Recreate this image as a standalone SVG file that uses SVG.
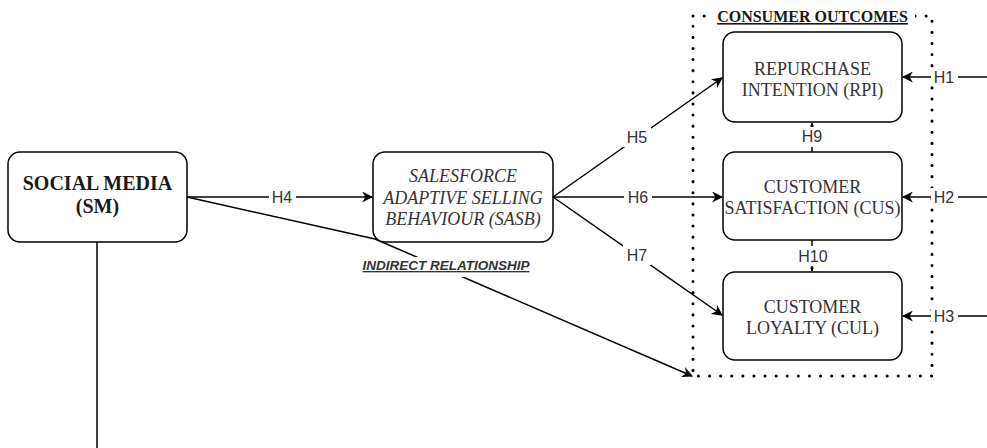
<svg xmlns="http://www.w3.org/2000/svg" width="987" height="448" viewBox="0 0 987 448">
  <style>
    .box { fill: #ffffff; stroke: #000000; stroke-width: 1.5; }
    .node-text { font-family: "Liberation Serif", "Times New Roman", serif; font-size: 18px; fill: #333333; text-anchor: middle; }
    .edge { fill: none; stroke: #000000; stroke-width: 1.5; }
    .lbl { font-family: "Liberation Sans", Arial, sans-serif; font-size: 16px; fill: #333333; text-anchor: middle; dominant-baseline: central; }
    .lbl-bg { fill: #ffffff; }
  </style>
  <defs>
    <marker id="arrow-lg" viewBox="0 0 10 10" refX="9" refY="5" markerWidth="11" markerHeight="11" markerUnits="userSpaceOnUse" orient="auto">
      <path d="M0,0 L10,5 L0,10 L3,5 Z" fill="#000000"/>
    </marker>
    <marker id="arrow-sm" viewBox="0 0 10 10" refX="9" refY="5" markerWidth="4" markerHeight="4" markerUnits="userSpaceOnUse" orient="auto">
      <path d="M0,0 L10,5 L0,10 Z" fill="#000000"/>
    </marker>
  </defs>

  <rect width="987" height="448" fill="#ffffff"/>

  <!-- consumer outcomes container -->
  <g id="consumer-outcomes">
    <rect x="693" y="16" width="239" height="360" fill="none" stroke="#000000" stroke-width="3" stroke-dasharray="0.1 11" stroke-linecap="round"/>
    <rect x="710" y="4" width="205" height="22" fill="#ffffff"/>
    <text x="812.5" y="22" font-family="'Liberation Serif', 'Times New Roman', serif" font-size="16" font-weight="bold" fill="#1a1a1a" text-anchor="middle" text-decoration="underline">CONSUMER OUTCOMES</text>
  </g>

  <!-- connectors -->
  <g id="connectors">
    <!-- H4 -->
    <path class="edge" d="M187,197 L372,197" marker-end="url(#arrow-lg)"/>
    <rect class="lbl-bg" x="269" y="188" width="27" height="18"/>
    <text class="lbl" x="282" y="197">H4</text>

    <!-- indirect relationship -->
    <path class="edge" d="M187,197 L375,239 L692,376" marker-end="url(#arrow-lg)"/>
    <rect class="lbl-bg" x="358" y="257" width="176" height="20"/>
    <text x="446" y="270" font-family="'Liberation Sans', Arial, sans-serif" font-size="13.5" font-weight="bold" font-style="italic" fill="#333333" text-anchor="middle" text-decoration="underline">INDIRECT RELATIONSHIP</text>

    <!-- SM downward line -->
    <path class="edge" d="M97,242 L97,448"/>

    <!-- H5, H6, H7 -->
    <path class="edge" d="M553,197 L722,78" marker-end="url(#arrow-lg)"/>
    <rect class="lbl-bg" x="623" y="127" width="28" height="20"/>
    <text class="lbl" x="637" y="137">H5</text>

    <path class="edge" d="M553,197 L722,197" marker-end="url(#arrow-lg)"/>
    <rect class="lbl-bg" x="624" y="188" width="28" height="18"/>
    <text class="lbl" x="638" y="197">H6</text>

    <path class="edge" d="M553,197 L722,315" marker-end="url(#arrow-lg)"/>
    <rect class="lbl-bg" x="623" y="245" width="28" height="20"/>
    <text class="lbl" x="637" y="255">H7</text>

    <!-- H1, H2, H3 -->
    <path class="edge" d="M987,77 L903,77" marker-end="url(#arrow-lg)"/>
    <rect class="lbl-bg" x="931" y="68" width="27" height="18"/>
    <text class="lbl" x="944" y="77">H1</text>

    <path class="edge" d="M987,197 L903,197" marker-end="url(#arrow-lg)"/>
    <rect class="lbl-bg" x="931" y="188" width="27" height="18"/>
    <text class="lbl" x="944" y="197">H2</text>

    <path class="edge" d="M987,316 L903,316" marker-end="url(#arrow-lg)"/>
    <rect class="lbl-bg" x="931" y="307" width="27" height="18"/>
    <text class="lbl" x="944" y="316">H3</text>

    <!-- H9, H10 -->
    <path class="edge" d="M812,152 L812,123" stroke-width="1" marker-end="url(#arrow-sm)"/>
    <rect class="lbl-bg" x="799" y="127" width="27" height="20"/>
    <text class="lbl" x="812" y="136">H9</text>

    <path class="edge" d="M812,240 L812,271" stroke-width="1" marker-end="url(#arrow-sm)"/>
    <rect class="lbl-bg" x="796" y="246" width="34" height="20"/>
    <text class="lbl" x="813" y="256">H10</text>
  </g>

  <!-- nodes -->
  <g id="social-media">
    <rect class="box" x="8" y="152" width="179" height="90" rx="12" ry="12"/>
    <text x="97.5" y="190" font-family="'Liberation Serif', 'Times New Roman', serif" font-size="20" font-weight="bold" fill="#1a1a1a" text-anchor="middle">SOCIAL MEDIA</text>
    <text x="97.5" y="213" font-family="'Liberation Serif', 'Times New Roman', serif" font-size="20" font-weight="bold" fill="#1a1a1a" text-anchor="middle">(SM)</text>
  </g>

  <g id="sasb">
    <rect class="box" x="373" y="152" width="180" height="90" rx="12" ry="12"/>
    <text class="node-text" x="463" y="182" font-style="italic">SALESFORCE</text>
    <text class="node-text" x="463" y="203.5" font-style="italic">ADAPTIVE SELLING</text>
    <text class="node-text" x="463" y="225" font-style="italic">BEHAVIOUR (SASB)</text>
  </g>

  <g id="rpi">
    <rect class="box" x="723" y="32" width="179" height="90" rx="12" ry="12"/>
    <text class="node-text" x="812.5" y="75">REPURCHASE</text>
    <text class="node-text" x="812.5" y="96">INTENTION (RPI)</text>
  </g>

  <g id="cus">
    <rect class="box" x="723" y="152" width="179" height="88" rx="12" ry="12"/>
    <text class="node-text" x="812.5" y="193">CUSTOMER</text>
    <text class="node-text" x="812.5" y="214">SATISFACTION (CUS)</text>
  </g>

  <g id="cul">
    <rect class="box" x="723" y="272" width="179" height="88" rx="12" ry="12"/>
    <text class="node-text" x="812.5" y="313">CUSTOMER</text>
    <text class="node-text" x="812.5" y="334">LOYALTY (CUL)</text>
  </g>
</svg>
